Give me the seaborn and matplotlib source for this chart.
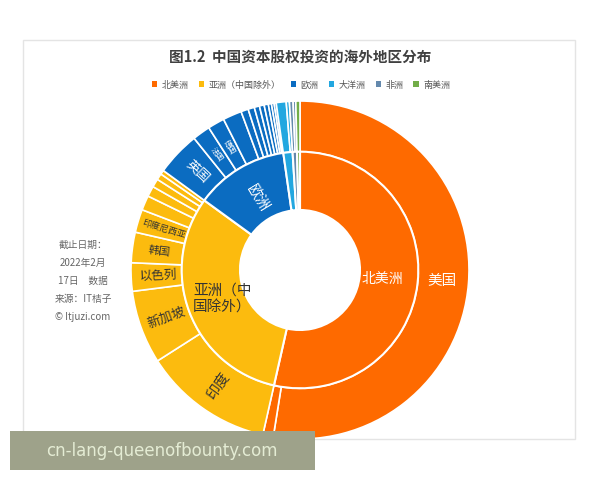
import matplotlib
matplotlib.use("Agg")
import matplotlib.pyplot as plt
import numpy as np
import seaborn as sns
from matplotlib.patches import Patch, Rectangle

# ---- data (share of overseas investment) ----
regions = ["北美洲", "亚洲（中国除外）", "欧洲", "大洋洲", "非洲", "南美洲"]
region_colors = ["#FE6A00", "#FCBB0E", "#0B6CC1", "#22A7E0", "#6489AD", "#72AD48"]

na_countries = ["美国", "加拿大"]
na_values = [52.4, 1.0]
asia_countries = ["印度", "新加坡", "以色列", "韩国", "印度尼西亚", "", "", "", "", ""]
asia_values = [12.4, 7.0, 2.7, 2.9, 2.2, 1.4, 1.0, 0.8, 0.6, 0.4]
europe_countries = ["英国", "法国", "德国", "", "", "", "", "", "", "", "", ""]
europe_values = [4.2, 1.7, 1.6, 1.8, 0.7, 0.6, 0.5, 0.45, 0.4, 0.3, 0.25, 0.2]
oceania_countries = ["", ""]
oceania_values = [0.95, 0.3]
africa_countries = ["", ""]
africa_values = [0.35, 0.25]
sa_countries = [""]
sa_values = [0.4]

country_groups = [na_countries, asia_countries, europe_countries,
                  oceania_countries, africa_countries, sa_countries]
value_groups = [na_values, asia_values, europe_values,
                oceania_values, africa_values, sa_values]

inner_labels = ["北美洲", "亚洲（中\n国除外）", "欧洲", "", "", ""]

# label styles: fontsize, colour, radial rotation (labels not listed are not drawn)
label_style = {
    "北美洲": (10, "white", False),
    "亚洲（中\n国除外）": (10.5, "#333333", False),
    "欧洲": (10.5, "white", True),
    "美国": (10.5, "white", False),
    "印度": (10.5, "#333333", True),
    "新加坡": (9.5, "#333333", True),
    "以色列": (9, "#333333", True),
    "韩国": (8, "#333333", True),
    "印度尼西亚": (6.5, "#333333", True),
    "英国": (9.5, "white", True),
    "法国": (5.5, "white", True),
    "德国": (5.5, "white", True),
}

sns.set_theme(style="white")
plt.rcParams["font.family"] = ["Noto Sans CJK SC", "DejaVu Sans"]

fig = plt.figure(figsize=(6, 4.8), dpi=100)
fig.patch.set_facecolor("white")

# card frame (behind the axes)
fig.patches.append(Rectangle((23 / 600, 1 - 439 / 480), 552 / 600, 399 / 480,
                             transform=fig.transFigure, facecolor="none",
                             edgecolor="#e4e4e4", linewidth=1.0, zorder=-1))

R = 169
cx, cy = 300, 270
ax = fig.add_axes([(cx - R) / 600, (480 - cy - R) / 480, 2 * R / 600, 2 * R / 480])
ax.set_facecolor("none")

outer_vals, outer_cols, outer_labs = [], [], []
for color, vals, labs in zip(region_colors, value_groups, country_groups):
    outer_vals += vals
    outer_cols += [color] * len(vals)
    outer_labs += labs
inner_vals = [sum(v) for v in value_groups]

r_in_outer = 0.70
r_hole = 0.355

w_out, _ = ax.pie(outer_vals, radius=1.0, colors=outer_cols, startangle=90,
                  counterclock=False,
                  wedgeprops=dict(width=1.0 - r_in_outer, edgecolor="white", linewidth=1.2))
w_in, _ = ax.pie(inner_vals, radius=r_in_outer, colors=region_colors, startangle=90,
                 counterclock=False,
                 wedgeprops=dict(width=r_in_outer - r_hole, edgecolor="white", linewidth=1.5))
ax.set_xlim(-1, 1)
ax.set_ylim(-1, 1)
ax.axis("off")


def put_label(wedge, text, radius):
    if text not in label_style:
        return
    size, color, radial = label_style[text]
    mid = np.deg2rad((wedge.theta1 + wedge.theta2) / 2)
    x, y = radius * np.cos(mid), radius * np.sin(mid)
    rot = 0
    if radial:
        deg = np.rad2deg(mid) % 360
        rot = deg + 180 if 90 < deg < 270 else deg
    ax.text(x, y, text, ha="center", va="center", fontsize=size, color=color,
            rotation=rot, rotation_mode="anchor", linespacing=1.3)


for wd, lab in zip(w_out, outer_labs):
    put_label(wd, lab, 0.84)
for wd, lab in zip(w_in, inner_labels):
    put_label(wd, lab, 0.49)

fig.text(0.5, 1 - 57 / 480, "图1.2  中国资本股权投资的海外地区分布", ha="center",
         va="center", fontsize=10.5, fontweight="bold", color="#404040")

handles = [Patch(facecolor=c, edgecolor="none") for c in region_colors]
fig.legend(handles, regions, loc="center", bbox_to_anchor=(0.502, 1 - 85 / 480),
           ncol=6, frameon=False, fontsize=6.5, handlelength=0.6, handleheight=0.6,
           handletextpad=0.5, columnspacing=1.1, labelcolor="#555555")

fig.text(83 / 600, 1 - 281 / 480,
         "截止日期：\n2022年2月\n17日　数据\n来源：IT桔子\n© Itjuzi.com",
         ha="center", va="center", fontsize=7, color="#666666", linespacing=2.0)

# bottom banner
fig.patches.append(Rectangle((10 / 600, 1 - 470 / 480), 305 / 600, 39 / 480,
                             transform=fig.transFigure, facecolor="#9EA28A",
                             edgecolor="none", zorder=5))
fig.text(162 / 600, 1 - 451 / 480, "cn-lang-queenofbounty.com", ha="center",
         va="center", fontsize=12, color="#E4ECD4", family="DejaVu Sans", zorder=6)

fig.savefig("out.png", dpi=100)
